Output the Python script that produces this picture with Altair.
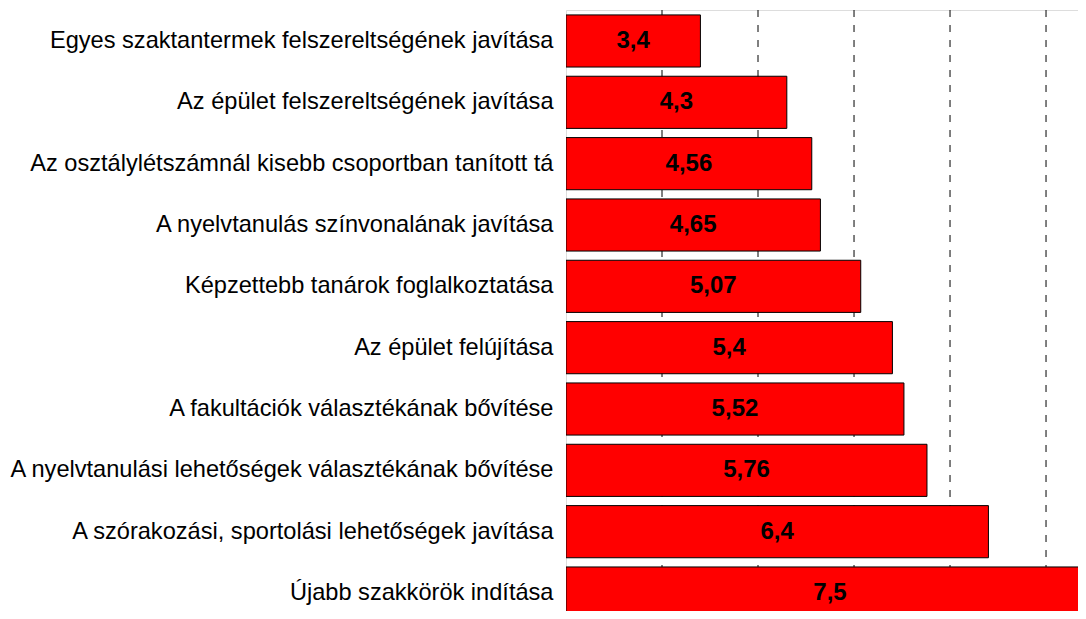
import altair as alt
import pandas as pd

categories = [
    "Egyes szaktantermek felszereltségének javítása\u2002",
    "Az épület felszereltségének javítása",
    "Az osztálylétszámnál kisebb csoportban tanított tá",
    "A nyelvtanulás színvonalának javítása",
    "Képzettebb tanárok foglalkoztatása",
    "Az épület felújítása",
    "A fakultációk választékának bővítése",
    "A nyelvtanulási lehetőségek választékának bővítése",
    "A szórakozási, sportolási lehetőségek javítása",
    "Újabb szakkörök indítása",
]
values = [3.4, 4.3, 4.56, 4.65, 5.07, 5.4, 5.52, 5.76, 6.4, 7.5]
labels = ["3,4", "4,3", "4,56", "4,65", "5,07", "5,4", "5,52", "5,76", "6,4", "7,5"]
x_min = 2
x_max = 7.333
grid_values = [3, 4, 5, 6, 7]

df = pd.DataFrame({"cat": categories, "value": values, "label": labels})
df["base"] = x_min

yscale = alt.Scale(range=[0, 614], paddingInner=0.15, paddingOuter=0.08)

yenc = alt.Y(
    "cat:N",
    sort=categories,
    title=None,
    scale=yscale,
    axis=alt.Axis(
        labelFont="Liberation Sans",
        labelFontSize=23.6,
        labelColor="black",
        labelPadding=13,
        ticks=False,
        domain=False,
        labelLimit=0,
    ),
)
xscale = alt.Scale(domain=[x_min, x_max], nice=False, zero=False)

grid = alt.Chart(pd.DataFrame({"g": grid_values})).mark_rule(
    color="black", strokeWidth=1, strokeDash=[7, 8]
).encode(x=alt.X("g:Q", scale=xscale, axis=None))

bars = alt.Chart(df).mark_bar(
    color="#FF0000", stroke="black", strokeWidth=1, clip=True
).encode(
    y=yenc,
    x=alt.X("base:Q", scale=xscale, axis=None),
    x2="value:Q",
)

text = alt.Chart(df).transform_calculate(
    mid="(datum.base + datum.value) / 2"
).mark_text(
    font="Liberation Sans", fontSize=24, fontWeight="bold", color="black"
).encode(
    y=alt.Y("cat:N", sort=categories),
    x=alt.X("mid:Q", scale=xscale),
    text="label:N",
)

chart = alt.layer(grid, bars, text).properties(
    width=512,
    height=601,
    autosize=alt.AutoSizeParams(type="none"),
    padding={"left": 558, "top": 2, "right": 0, "bottom": 0},
).configure_view(stroke="black", strokeWidth=1).configure(background="white")

chart.save("out.html", embed_options={"renderer": "svg", "actions": False})
